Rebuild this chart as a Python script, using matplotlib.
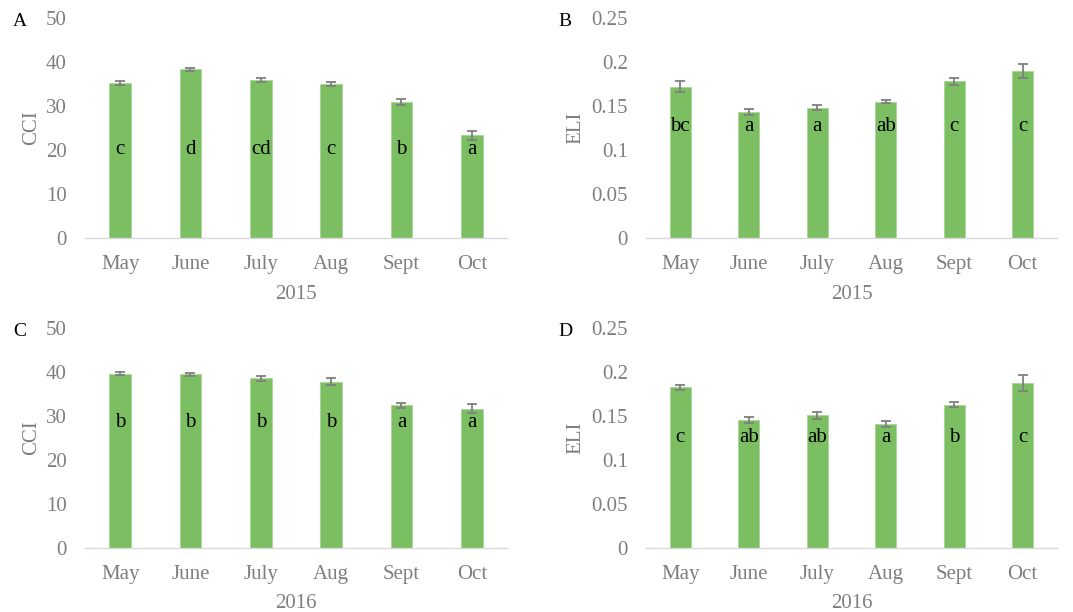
import matplotlib
matplotlib.use("Agg")
import matplotlib.pyplot as plt
import numpy as np

months = ["May", "June", "July", "Aug", "Sept", "Oct"]

cci_2015 = [35.2, 38.3, 35.9, 35.0, 30.9, 23.3]
cci_2015_err = [0.5, 0.4, 0.4, 0.4, 0.7, 1.1]
cci_2015_letters = ["c", "d", "cd", "c", "b", "a"]

eli_2015 = [0.172, 0.143, 0.148, 0.155, 0.178, 0.190]
eli_2015_err = [0.0065, 0.0034, 0.003, 0.002, 0.004, 0.008]
eli_2015_letters = ["bc", "a", "a", "ab", "c", "c"]

cci_2016 = [39.6, 39.5, 38.6, 37.8, 32.4, 31.7]
cci_2016_err = [0.3, 0.3, 0.6, 0.8, 0.6, 1.1]
cci_2016_letters = ["b", "b", "b", "b", "a", "a"]

eli_2016 = [0.1826, 0.1455, 0.1508, 0.1409, 0.1629, 0.1875]
eli_2016_err = [0.003, 0.0032, 0.0042, 0.0032, 0.003, 0.0093]
eli_2016_letters = ["c", "ab", "ab", "a", "b", "c"]

plt.rcParams['font.family'] = ['Liberation Serif', 'DejaVu Serif']

W, H = 1073, 612
fig = plt.figure(figsize=(W / 100, H / 100), dpi=100)

GRAY = "#7f7f7f"
GREEN = "#7cbf62"

panels = [
    dict(tag="A", vals=cci_2015, err=cci_2015_err, letters=cci_2015_letters, ylab="CCI", year="2015",
         ymax=50, step=10, fmt="int", letter_y=20, box=(85, 507, 18, 238)),
    dict(tag="B", vals=eli_2015, err=eli_2015_err, letters=eli_2015_letters, ylab="ELI", year="2015",
         ymax=0.25, step=0.05, fmt="float", letter_y=0.127, box=(646, 1057, 18, 238)),
    dict(tag="C", vals=cci_2016, err=cci_2016_err, letters=cci_2016_letters, ylab="CCI", year="2016",
         ymax=50, step=10, fmt="int", letter_y=28.6, box=(85, 507, 328, 548)),
    dict(tag="D", vals=eli_2016, err=eli_2016_err, letters=eli_2016_letters, ylab="ELI", year="2016",
         ymax=0.25, step=0.05, fmt="float", letter_y=0.125, box=(646, 1057, 328, 548)),
]

FS = 15

for p in panels:
    l, r, t, b = p["box"]
    ax = fig.add_axes([l / W, 1 - b / H, (r - l) / W, (b - t) / H])
    x = np.arange(len(months))
    ax.bar(x, p["vals"], width=0.31, color=GREEN, edgecolor="#a8d696", linewidth=0.6, zorder=2)
    ax.errorbar(x, p["vals"], yerr=p["err"], fmt="none", ecolor=GRAY, elinewidth=1.3,
                capsize=3.5, capthick=1.3, zorder=3)
    for xi, lt in zip(x, p["letters"]):
        ax.text(xi, p["letter_y"], lt, ha="center", va="center", fontsize=FS, color="black", zorder=4)
    ax.set_xlim(-0.5, len(months) - 0.5)
    ax.set_ylim(0, p["ymax"])
    ticks = np.arange(0, p["ymax"] + p["step"] / 2, p["step"])
    ax.set_yticks(ticks)
    if p["fmt"] == "int":
        ax.set_yticklabels([f"{int(round(v))}" for v in ticks])
    else:
        ax.set_yticklabels(["0"] + [f"{v:.2f}".rstrip("0") for v in ticks[1:]])
    ax.set_xticks(x)
    ax.set_xticklabels(months)
    for s in ["top", "right", "left"]:
        ax.spines[s].set_visible(False)
    ax.spines["bottom"].set_color("#d9d9d9")
    ax.spines["bottom"].set_linewidth(1.0)
    ax.tick_params(axis="both", length=0, labelsize=FS, labelcolor=GRAY)
    ax.tick_params(axis="y", pad=13)
    ax.tick_params(axis="x", pad=12)
    left = l < 500
    ylab_x = 32 if left else 576
    fig.text(ylab_x / W, 1 - ((t + b) / 2) / H, p["ylab"], rotation=90, fontsize=FS, color=GRAY,
             ha="center", va="center")
    fig.text(((l + r) / 2) / W, 1 - (b + 56) / H, p["year"], fontsize=FS, color=GRAY,
             ha="center", va="center")
    fig.text((20 if left else 565) / W, 1 - (t + 4) / H, p["tag"], fontsize=14,
             color="black", ha="center", va="center")

fig.savefig("out.png", dpi=100)
